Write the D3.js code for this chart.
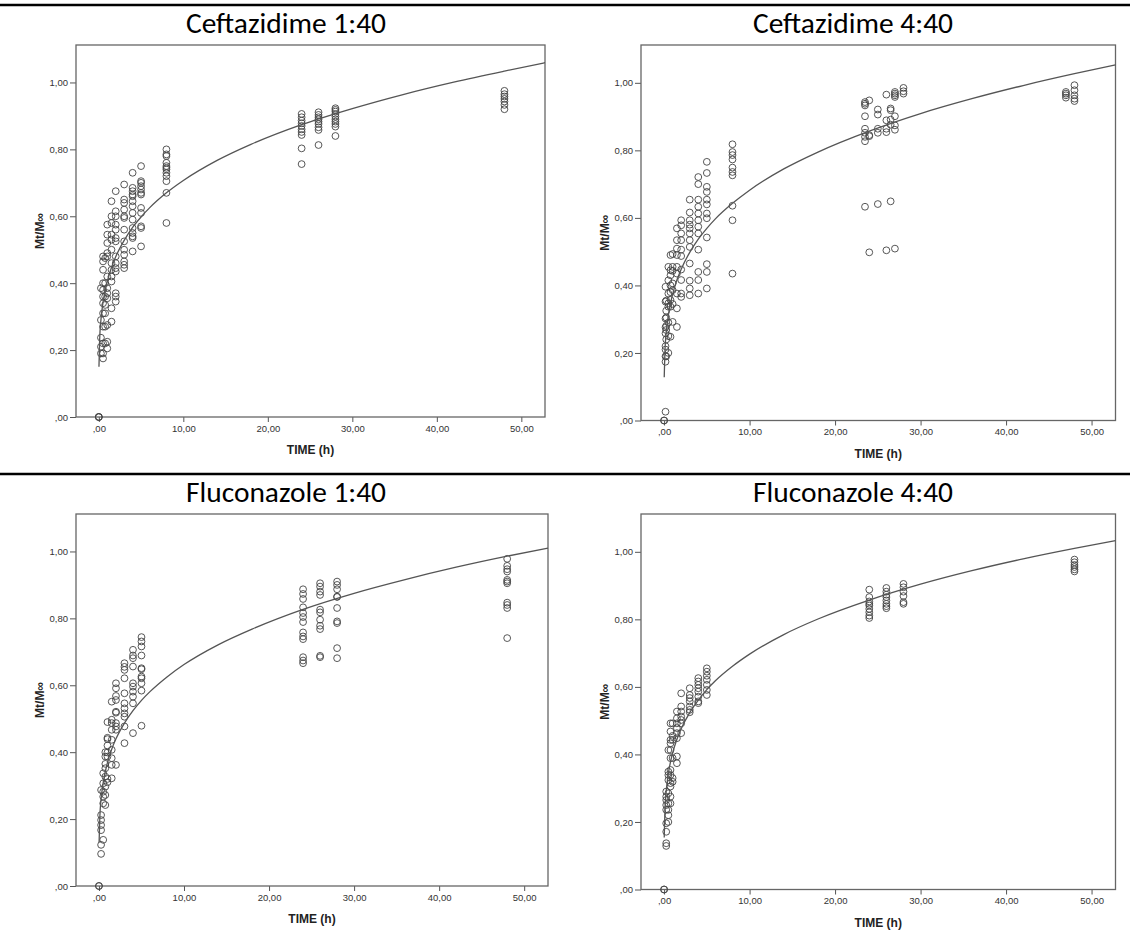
<!DOCTYPE html>
<html>
<head>
<meta charset="utf-8">
<script src="https://cdn.jsdelivr.net/npm/d3@7"></script>
<style>
  body { margin: 0; background: #fff; }
  svg { display: block; }
  .tick text { font-family: "Liberation Sans", Arial, sans-serif; font-size: 9.5px; fill: #333; }
  .tick line { stroke: #555; }
</style>
</head>
<body>
<div id="chart"></div>
<script>
// ---- data ----
// Ceftazidime 1:40
const cef1Times = [0, 0.25, 0.5, 0.75, 1, 1.5, 2, 3, 4, 5, 8, 24, 26, 28, 48];
const cef1Values = [
  [0, 0, 0],
  [0.385, 0.29, 0.237, 0.21, 0.19],
  [0.48, 0.465, 0.44, 0.40, 0.38, 0.36, 0.34, 0.31, 0.27, 0.22, 0.19, 0.175],
  [0.475, 0.40, 0.36, 0.335, 0.31, 0.27, 0.22],
  [0.575, 0.545, 0.52, 0.49, 0.48, 0.42, 0.385, 0.37, 0.355, 0.275, 0.225, 0.205],
  [0.645, 0.60, 0.58, 0.545, 0.53, 0.50, 0.46, 0.44, 0.42, 0.405, 0.325, 0.285],
  [0.675, 0.615, 0.60, 0.575, 0.56, 0.535, 0.525, 0.48, 0.46, 0.445, 0.435, 0.37, 0.36, 0.345],
  [0.695, 0.65, 0.64, 0.62, 0.60, 0.595, 0.56, 0.525, 0.50, 0.485, 0.465, 0.455, 0.445],
  [0.73, 0.685, 0.675, 0.665, 0.66, 0.645, 0.63, 0.61, 0.59, 0.565, 0.55, 0.54, 0.535, 0.495],
  [0.75, 0.705, 0.70, 0.69, 0.68, 0.67, 0.665, 0.625, 0.61, 0.57, 0.565, 0.51],
  [0.80, 0.785, 0.78, 0.76, 0.75, 0.745, 0.74, 0.73, 0.72, 0.705, 0.67, 0.58],
  [0.906, 0.896, 0.886, 0.878, 0.870, 0.860, 0.852, 0.843, 0.803, 0.756],
  [0.911, 0.903, 0.896, 0.890, 0.883, 0.876, 0.866, 0.858, 0.813],
  [0.923, 0.918, 0.913, 0.906, 0.898, 0.890, 0.883, 0.876, 0.868, 0.840],
  [0.975, 0.965, 0.958, 0.951, 0.943, 0.933, 0.920]
];

// Ceftazidime 4:40
const cef4Times = [0, 0.167, 0.25, 0.5, 0.75, 1, 1.5, 2, 3, 4, 5, 8, 23.5, 24, 25, 26, 26.5, 27, 28, 47, 48];
const cef4Values = [
  [0, 0],
  [0.026, 0.174, 0.19, 0.21, 0.22, 0.258, 0.276, 0.302, 0.352, 0.396],
  [0.19, 0.24, 0.268, 0.28, 0.305, 0.325, 0.355],
  [0.20, 0.25, 0.29, 0.337, 0.347, 0.376, 0.415, 0.455],
  [0.248, 0.337, 0.357, 0.38, 0.40, 0.43, 0.445, 0.49],
  [0.292, 0.345, 0.386, 0.406, 0.443, 0.455, 0.493],
  [0.277, 0.332, 0.376, 0.435, 0.455, 0.49, 0.509, 0.534, 0.569],
  [0.366, 0.376, 0.416, 0.447, 0.487, 0.506, 0.534, 0.554, 0.578, 0.593],
  [0.371, 0.391, 0.414, 0.465, 0.514, 0.534, 0.554, 0.569, 0.58, 0.593, 0.616, 0.654],
  [0.376, 0.416, 0.44, 0.506, 0.554, 0.574, 0.593, 0.613, 0.633, 0.654, 0.70, 0.721],
  [0.391, 0.44, 0.463, 0.542, 0.599, 0.613, 0.64, 0.654, 0.677, 0.692, 0.733, 0.766],
  [0.435, 0.593, 0.636, 0.726, 0.736, 0.749, 0.773, 0.786, 0.795, 0.818],
  [0.943, 0.938, 0.933, 0.901, 0.864, 0.852, 0.840, 0.827, 0.633],
  [0.948, 0.845, 0.842, 0.498],
  [0.921, 0.906, 0.864, 0.852, 0.641],
  [0.965, 0.889, 0.864, 0.854, 0.504],
  [0.924, 0.919, 0.891, 0.876, 0.649],
  [0.973, 0.968, 0.963, 0.958, 0.901, 0.874, 0.861, 0.509],
  [0.985, 0.975, 0.968],
  [0.973, 0.968, 0.963, 0.956],
  [0.993, 0.978, 0.963, 0.953, 0.946]
];

// Fluconazole 1:40
const flu1Times = [0, 0.25, 0.5, 0.75, 1, 1.5, 2, 3, 4, 5, 24, 26, 28, 48];
const flu1Values = [
  [0, 0],
  [0.096, 0.123, 0.167, 0.182, 0.197, 0.212, 0.287],
  [0.138, 0.247, 0.267, 0.282, 0.307, 0.337],
  [0.242, 0.272, 0.297, 0.327, 0.352, 0.365, 0.387, 0.40],
  [0.31, 0.32, 0.387, 0.399, 0.42, 0.439, 0.443, 0.49],
  [0.551, 0.497, 0.487, 0.467, 0.437, 0.407, 0.382, 0.362, 0.322],
  [0.606, 0.591, 0.568, 0.556, 0.521, 0.518, 0.487, 0.477, 0.467, 0.362],
  [0.666, 0.655, 0.646, 0.621, 0.576, 0.546, 0.531, 0.516, 0.506, 0.477, 0.427],
  [0.706, 0.689, 0.681, 0.656, 0.606, 0.596, 0.581, 0.566, 0.546, 0.457],
  [0.744, 0.731, 0.716, 0.689, 0.651, 0.648, 0.626, 0.621, 0.606, 0.584, 0.479],
  [0.887, 0.873, 0.858, 0.833, 0.816, 0.804, 0.789, 0.758, 0.746, 0.738, 0.684, 0.674, 0.666],
  [0.905, 0.895, 0.880, 0.870, 0.826, 0.818, 0.796, 0.778, 0.768, 0.688, 0.684],
  [0.910, 0.900, 0.887, 0.865, 0.864, 0.831, 0.791, 0.786, 0.711, 0.681],
  [0.978, 0.957, 0.947, 0.940, 0.915, 0.910, 0.905, 0.847, 0.840, 0.831, 0.741]
];

// Fluconazole 4:40
const flu4Times = [0, 0.25, 0.5, 0.75, 1, 1.5, 2, 3, 4, 5, 24, 26, 28, 48];
const flu4Values = [
  [0, 0],
  [0.129, 0.137, 0.171, 0.196, 0.236, 0.25, 0.265, 0.275, 0.29],
  [0.20, 0.22, 0.236, 0.255, 0.285, 0.324, 0.339, 0.349, 0.413],
  [0.255, 0.275, 0.305, 0.315, 0.339, 0.354, 0.389, 0.413, 0.433, 0.443, 0.468, 0.492],
  [0.319, 0.33, 0.389, 0.443, 0.455, 0.492],
  [0.374, 0.394, 0.448, 0.463, 0.478, 0.492, 0.507, 0.527],
  [0.463, 0.492, 0.502, 0.512, 0.527, 0.542, 0.581],
  [0.525, 0.532, 0.542, 0.557, 0.567, 0.576, 0.596],
  [0.552, 0.557, 0.571, 0.586, 0.596, 0.606, 0.616, 0.626],
  [0.576, 0.591, 0.606, 0.621, 0.633, 0.645, 0.655],
  [0.888, 0.866, 0.853, 0.846, 0.841, 0.831, 0.821, 0.811, 0.804],
  [0.893, 0.882, 0.873, 0.866, 0.856, 0.846, 0.839, 0.833],
  [0.905, 0.895, 0.882, 0.869, 0.851, 0.846],
  [0.977, 0.969, 0.961, 0.955, 0.948, 0.942]
];

// fitted curves, read at these times
const curveTimes = [0.0167, 0.1, 0.25, 0.5, 1, 1.5, 2, 3, 4, 5, 6, 8, 10, 14, 18, 24, 30, 36, 42, 48, 52.8];
const cef1Curve = [0.150, 0.232, 0.290, 0.343, 0.405, 0.447, 0.479, 0.528, 0.567, 0.598, 0.625, 0.670, 0.707, 0.767, 0.815, 0.874, 0.922, 0.964, 1.001, 1.034, 1.059];
const cef4Curve = [0.128, 0.205, 0.260, 0.312, 0.374, 0.416, 0.448, 0.498, 0.537, 0.569, 0.597, 0.643, 0.682, 0.745, 0.795, 0.857, 0.909, 0.953, 0.992, 1.027, 1.053];
const flu1Curve = [0.130, 0.205, 0.259, 0.309, 0.369, 0.409, 0.440, 0.487, 0.524, 0.555, 0.581, 0.625, 0.662, 0.721, 0.768, 0.827, 0.875, 0.916, 0.953, 0.986, 1.010];
const flu4Curve = [0.154, 0.235, 0.291, 0.343, 0.404, 0.445, 0.476, 0.524, 0.561, 0.592, 0.618, 0.661, 0.697, 0.755, 0.801, 0.857, 0.904, 0.944, 0.979, 1.010, 1.033];

const xTicks = [0, 10, 20, 30, 40, 50];
const yTicks = [0, 0.2, 0.4, 0.6, 0.8, 1.0];

// ---- layout ----
const svgWidth = 1130;
const svgHeight = 938;

const panels = [
  { title: 'Ceftazidime 1:40', times: cef1Times, values: cef1Values, curve: cef1Curve,
    left: 76, right: 545, top: 45, bottom: 417, titleX: 286, titleY: 33 },
  { title: 'Ceftazidime 4:40', times: cef4Times, values: cef4Values, curve: cef4Curve,
    left: 641, right: 1115.5, top: 45, bottom: 420.5, titleX: 853, titleY: 33 },
  { title: 'Fluconazole 1:40', times: flu1Times, values: flu1Values, curve: flu1Curve,
    left: 76, right: 548, top: 514, bottom: 886, titleX: 286, titleY: 502 },
  { title: 'Fluconazole 4:40', times: flu4Times, values: flu4Values, curve: flu4Curve,
    left: 641, right: 1115.5, top: 514, bottom: 889.5, titleX: 853, titleY: 502 }
];

const svg = d3.select('#chart')
  .append('svg')
  .attr('width', svgWidth)
  .attr('height', svgHeight);

// black separator rules
[5, 474].forEach(y => {
  svg.append('line')
    .attr('x1', 0).attr('x2', svgWidth)
    .attr('y1', y).attr('y2', y)
    .attr('stroke', '#000')
    .attr('stroke-width', 2.5);
});

const fmt = d => (d === 0 ? ',00' : d3.format('.2f')(d).replace('.', ','));

panels.forEach(p => {
  const xScale = d3.scaleLinear().domain([-2.7, 52.8]).range([p.left, p.right]);
  const yScale = d3.scaleLinear().domain([0, 1.112]).range([p.bottom, p.top]);

  // title
  const title = svg.append('text')
    .attr('x', p.titleX)
    .attr('y', p.titleY)
    .attr('text-anchor', 'middle')
    .style('font-family', 'Carlito, Lato, "Open Sans", sans-serif')
    .style('font-size', '25px')
    .style('fill', '#000')
    .text(p.title);
  const len = title.node().getComputedTextLength();
  title.style('font-size', (25 * 200 / len).toFixed(2) + 'px');

  // axes
  svg.append('g')
    .attr('transform', `translate(0,${p.bottom})`)
    .call(d3.axisBottom(xScale).tickValues(xTicks).tickFormat(fmt).tickSize(5).tickPadding(3))
    .call(g => g.select('.domain').remove());

  svg.append('g')
    .attr('transform', `translate(${p.left},0)`)
    .call(d3.axisLeft(yScale).tickValues(yTicks).tickFormat(fmt).tickSize(6).tickPadding(2))
    .call(g => g.select('.domain').remove());

  // frame
  svg.append('rect')
    .attr('x', p.left)
    .attr('y', p.top)
    .attr('width', p.right - p.left)
    .attr('height', p.bottom - p.top)
    .attr('fill', 'none')
    .attr('stroke', '#666')
    .attr('stroke-width', 1.3);

  // axis titles
  svg.append('text')
    .attr('x', (p.left + p.right) / 2)
    .attr('y', p.bottom + 37)
    .attr('text-anchor', 'middle')
    .style('font-family', '"Liberation Sans", Arial, sans-serif')
    .style('font-weight', 'bold')
    .style('font-size', '12px')
    .style('fill', '#222')
    .text('TIME (h)');

  svg.append('text')
    .attr('transform', `translate(${p.left - 36},${(p.top + p.bottom) / 2}) rotate(-90)`)
    .attr('text-anchor', 'middle')
    .attr('dy', '0.35em')
    .style('font-family', '"Liberation Sans", Arial, sans-serif')
    .style('font-weight', 'bold')
    .style('font-size', '12px')
    .style('fill', '#222')
    .text('Mt/M∞');

  // scatter points
  const pts = [];
  p.times.forEach((t, i) => p.values[i].forEach(v => pts.push({ t: t, v: v })));

  svg.append('g')
    .selectAll('circle')
    .data(pts)
    .enter()
    .append('circle')
    .attr('cx', d => xScale(d.t))
    .attr('cy', d => yScale(d.v))
    .attr('r', 3.4)
    .attr('fill', 'none')
    .attr('stroke', '#444')
    .attr('stroke-width', 0.9);

  // fitted curve
  const line = d3.line()
    .x(d => xScale(d[0]))
    .y(d => yScale(d[1]))
    .curve(d3.curveMonotoneX);

  svg.append('path')
    .datum(curveTimes.map((t, i) => [t, p.curve[i]]))
    .attr('d', line)
    .attr('fill', 'none')
    .attr('stroke', '#555')
    .attr('stroke-width', 1.3);
});
</script>
</body>
</html>
